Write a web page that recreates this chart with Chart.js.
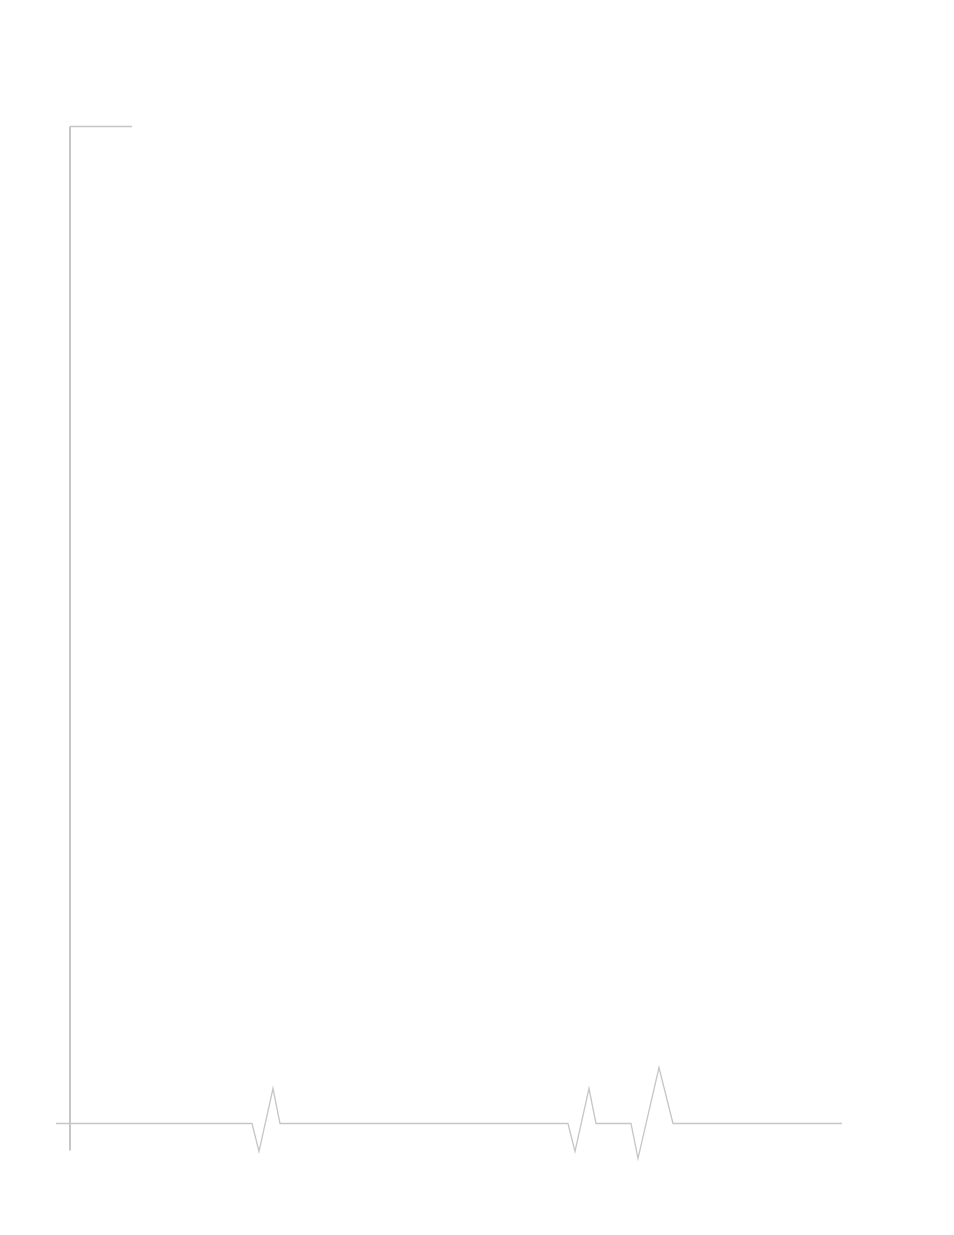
<!DOCTYPE html>
<html>
<head>
<meta charset="utf-8">
<title>Trace</title>
<script src="https://cdn.jsdelivr.net/npm/chart.js@4"></script>
<style>
  html, body { margin: 0; padding: 0; background: #fff; }
  canvas { display: block; }
</style>
</head>
<body>
<canvas id="traceChart" width="954" height="1235"></canvas>
<script>
// trace: x position and amplitude (baseline = 0, up is positive)
const traceX = [56, 252, 259, 273, 280, 568, 575, 589, 596, 631, 638, 659, 673, 842];
const traceY = [0, 0, -28, 35, 0, 0, -28, 35, 0, 0, -35, 56, 0, 0];

// frame: left bar and the short top rule
const frameX = [70, 70];
const frameY = [-27, 997];
const topRuleX = [70, 132];
const topRuleY = [997, 997];

const LINE_GREY = "#c6c6c6";

function toPoints(xs, ys) {
  return xs.map((x, i) => ({ x, y: ys[i] }));
}

const canvas = document.getElementById("traceChart");

new Chart(canvas, {
  type: "line",
  data: {
    datasets: [
      {
        label: "trace",
        data: toPoints(traceX, traceY),
        borderColor: LINE_GREY,
        borderWidth: 1.3,
        pointRadius: 0,
        tension: 0
      },
      {
        label: "frame",
        data: toPoints(frameX, frameY),
        borderColor: LINE_GREY,
        borderWidth: 2,
        pointRadius: 0
      },
      {
        label: "top",
        data: toPoints(topRuleX, topRuleY),
        borderColor: LINE_GREY,
        borderWidth: 1.3,
        pointRadius: 0
      }
    ]
  },
  options: {
    responsive: false,
    animation: false,
    devicePixelRatio: 1,
    layout: { padding: 0 },
    plugins: {
      legend: { display: false },
      tooltip: { enabled: false }
    },
    scales: {
      x: { type: "linear", display: false, min: 0, max: 954 },
      y: { type: "linear", display: false, min: -111.5, max: 1123.5 }
    }
  }
});
</script>
</body>
</html>
